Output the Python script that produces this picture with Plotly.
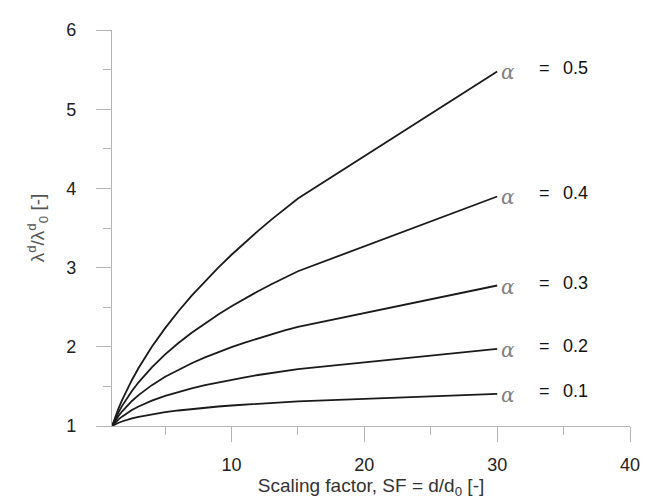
import plotly.graph_objects as go

# Scaling factor values (x)
sf = [1, 1.25, 1.5, 1.75, 2, 2.5, 3, 3.5, 4, 5, 6, 7, 8, 9, 10, 11, 12, 13, 14, 15, 30]

# lambda_d / lambda_d0 for each alpha
alpha_01 = [1.000, 1.023, 1.041, 1.057, 1.072, 1.096, 1.116, 1.133, 1.149, 1.175, 1.196, 1.215, 1.231, 1.246, 1.259, 1.271, 1.282, 1.292, 1.302, 1.311, 1.406]
alpha_02 = [1.000, 1.046, 1.084, 1.118, 1.149, 1.201, 1.246, 1.285, 1.320, 1.380, 1.431, 1.476, 1.516, 1.552, 1.585, 1.615, 1.644, 1.670, 1.695, 1.719, 1.974]
alpha_03 = [1.000, 1.069, 1.129, 1.183, 1.231, 1.316, 1.390, 1.456, 1.516, 1.621, 1.712, 1.793, 1.866, 1.933, 1.995, 2.053, 2.107, 2.159, 2.207, 2.253, 2.774]
alpha_04 = [1.000, 1.093, 1.176, 1.251, 1.320, 1.443, 1.552, 1.650, 1.741, 1.904, 2.048, 2.178, 2.297, 2.408, 2.512, 2.610, 2.702, 2.790, 2.874, 2.954, 3.898]
alpha_05 = [1.000, 1.118, 1.225, 1.323, 1.414, 1.581, 1.732, 1.871, 2.000, 2.236, 2.449, 2.646, 2.828, 3.000, 3.162, 3.317, 3.464, 3.606, 3.742, 3.873, 5.477]

series = [alpha_01, alpha_02, alpha_03, alpha_04, alpha_05]
alpha_labels = ["0.1", "0.2", "0.3", "0.4", "0.5"]

x_ticks = [10, 20, 30, 40]
x_minor = [5, 15, 25, 35]
y_ticks = [1, 2, 3, 4, 5, 6]
y_minor = [1.5, 2.5, 3.5, 4.5, 5.5]

FONT = "Liberation Sans, Arial, sans-serif"
AXIS_GRAY = "#b4b4b4"

fig = go.Figure()
for vals in series:
    fig.add_trace(go.Scatter(
        x=sf, y=vals, mode="lines",
        line=dict(color="#1a1a1a", width=1.8),
        showlegend=False, hoverinfo="skip",
    ))

annotations = []
for vals, lab in zip(series, alpha_labels):
    annotations.append(dict(
        x=sf[-1], y=vals[-1], xref="x", yref="y",
        text="<i>α</i>", showarrow=False, xanchor="left", yanchor="middle",
        xshift=2, yshift=-1,
        font=dict(family="DejaVu Serif, serif", size=20, color="#808080"),
    ))
    annotations.append(dict(
        x=sf[-1], y=vals[-1], xref="x", yref="y",
        text="=", showarrow=False, xanchor="left", yanchor="middle",
        xshift=40, yshift=3,
        font=dict(family=FONT, size=18, color="#111111"),
    ))
    annotations.append(dict(
        x=sf[-1], y=vals[-1], xref="x", yref="y",
        text=lab, showarrow=False, xanchor="left", yanchor="middle",
        xshift=64, yshift=3,
        font=dict(family=FONT, size=18, color="#111111"),
    ))

fig.update_layout(
    width=649, height=501,
    margin=dict(l=104, r=27, t=15, b=83),
    plot_bgcolor="white", paper_bgcolor="white",
    font=dict(family=FONT, size=18, color="#222222"),
    annotations=annotations,
    xaxis=dict(
        range=[1, 40], showgrid=False, zeroline=False,
        showline=True, linecolor=AXIS_GRAY, linewidth=1.2,
        tickmode="array", tickvals=x_ticks, ticktext=[str(v) for v in x_ticks],
        ticks="outside", ticklen=15, tickcolor=AXIS_GRAY, tickwidth=1.2,
        ticklabelstandoff=7,
        minor=dict(tickvals=x_minor, ticks="outside", ticklen=8,
                   tickcolor=AXIS_GRAY, tickwidth=1.2, showgrid=False),
        tickfont=dict(size=18, color="#222222"),
        title=dict(text="Scaling factor, SF = d/d<sub>0</sub> [-]",
                   font=dict(size=19, color="#333333"), standoff=0),
    ),
    yaxis=dict(
        range=[1, 6], showgrid=False, zeroline=False,
        showline=True, linecolor=AXIS_GRAY, linewidth=1.2,
        tickmode="array", tickvals=y_ticks, ticktext=[str(v) for v in y_ticks],
        ticks="outside", ticklen=15, tickcolor=AXIS_GRAY, tickwidth=1.2,
        ticklabelstandoff=16,
        minor=dict(tickvals=y_minor, ticks="outside", ticklen=8,
                   tickcolor=AXIS_GRAY, tickwidth=1.2, showgrid=False),
        tickfont=dict(size=18, color="#222222"),
        title=dict(text="λ<sup>d</sup>/λ<sup>d</sup><sub>0</sub> [-]",
                   font=dict(size=19, color="#555555"), standoff=16),
    ),
)

fig.write_html("out.html")
